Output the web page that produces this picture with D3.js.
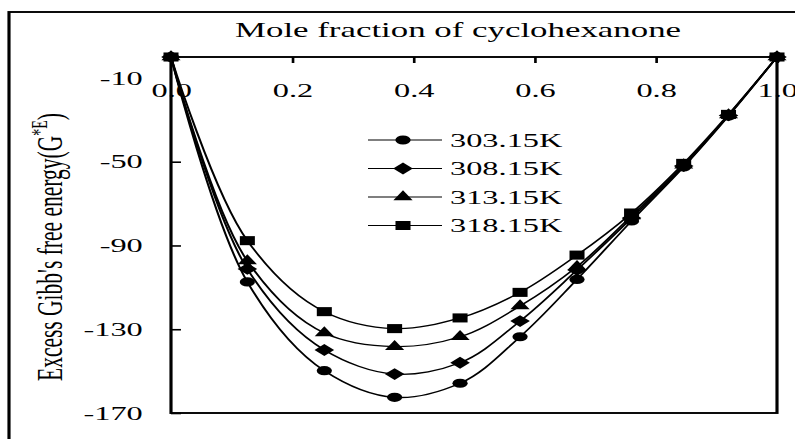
<!DOCTYPE html>
<html>
<head>
<meta charset="utf-8">
<script src="https://cdn.jsdelivr.net/npm/d3@7"></script>
<style>
  body { margin: 0; background: #fff; }
  svg { display: block; }
</style>
</head>
<body>
<script>
// mole fraction of cyclohexanone
const xFrac = [0, 0.126, 0.253, 0.369, 0.477, 0.576, 0.670, 0.760, 0.846, 0.920, 1.0];
// excess gibbs free energy per temperature
const g303 = [0, -107.4, -149.8, -162.5, -155.8, -133.6, -106.2, -78.3, -52.5, -28.2, 0];
const g308 = [0, -101.2, -139.9, -151.4, -146.0, -126.1, -101.7, -76.9, -52.1, -27.9, 0];
const g313 = [0, -97.4, -131.8, -138.3, -133.6, -118.9, -100.1, -75.9, -51.6, -27.7, 0];
const g318 = [0, -87.7, -121.6, -129.7, -124.6, -112.4, -94.6, -74.5, -50.8, -27.4, 0];
const seriesNames = ["303.15K", "308.15K", "313.15K", "318.15K"];
const xTicks = [0, 0.2, 0.4, 0.6, 0.8, 1.0];
const yTicks = [-170, -130, -90, -50, -10];

const FONT = '"Liberation Serif", "Times New Roman", Times, serif';

// the original figure was stretched sideways, so draw narrow and let viewBox stretch it
const SX = 1.66;
const W = 795, H = 439;
const VW = W / SX;

const diamond = {
  draw(ctx, size) {
    const r = Math.sqrt(size) / 2;
    ctx.moveTo(0, -r); ctx.lineTo(r, 0); ctx.lineTo(0, r); ctx.lineTo(-r, 0); ctx.closePath();
  }
};
const shapes = [
  {type: d3.symbolCircle, size: 66},
  {type: diamond, size: 140},
  {type: d3.symbolTriangle, size: 58},
  {type: d3.symbolSquare, size: 82}
];

const allSeries = [g303, g308, g313, g318].map((vals, i) => ({
  name: seriesNames[i],
  shape: shapes[i],
  pts: vals.map((v, j) => ({x: xFrac[j], y: v}))
}));

const svg = d3.select("body").append("svg")
  .attr("width", W)
  .attr("height", H)
  .attr("viewBox", `0 0 ${VW} ${H}`)
  .attr("preserveAspectRatio", "none")
  .attr("font-family", FONT);

// outer frame (runs off right/bottom edge like the screenshot)
svg.append("rect")
  .attr("x", 9 / SX).attr("y", 12)
  .attr("width", VW).attr("height", H)
  .attr("fill", "none").attr("stroke", "#000").attr("stroke-width", 1.9);

const pLeft = 171 / SX, pRight = 777 / SX, pTop = 57, pBottom = 413;

const x = d3.scaleLinear().domain([0, 1]).range([pLeft, pRight]);
const y = d3.scaleLinear().domain([-170, 0]).range([pBottom, pTop]);

// plot box
svg.append("rect")
  .attr("x", pLeft).attr("y", pTop)
  .attr("width", pRight - pLeft).attr("height", pBottom - pTop)
  .attr("fill", "none").attr("stroke", "#000").attr("stroke-width", 1.9);

// x axis sits on the top edge (y = 0), labels hang below
const xAxis = svg.append("g")
  .attr("transform", `translate(0,${pTop})`)
  .call(d3.axisBottom(x).tickValues(xTicks).tickFormat(d3.format(".1f"))
    .tickSize(6).tickPadding(20));
xAxis.attr("font-family", FONT).attr("font-size", 19.5);
xAxis.select(".domain").remove();
xAxis.selectAll("line").attr("stroke", "#000").attr("stroke-width", 1.6);
xAxis.selectAll("text").attr("font-family", FONT).attr("font-size", 19.5);

// plain hyphen minus like the original, not the unicode one
const yAxis = svg.append("g")
  .attr("transform", `translate(${pLeft},0)`)
  .call(d3.axisLeft(y).tickValues(yTicks).tickFormat(d => String(d))
    .tickSize(-6).tickPadding(17));
yAxis.attr("font-family", FONT).attr("font-size", 19.5);
yAxis.select(".domain").remove();
yAxis.selectAll("line").attr("stroke", "#000").attr("stroke-width", 1.6);
yAxis.selectAll(".tick").filter(d => d === -10).select("line").remove();
yAxis.selectAll("text").attr("font-family", FONT).attr("font-size", 19.5);

// title
svg.append("text")
  .attr("x", 458 / SX).attr("y", 37)
  .attr("text-anchor", "middle")
  .attr("font-size", 21)
  .text("Mole fraction of cyclohexanone");

// y label
const ylab = svg.append("text")
  .attr("transform", `translate(${62 / SX},247) rotate(-90)`)
  .attr("text-anchor", "middle")
  .attr("font-size", 21.5);
ylab.append("tspan").text("Excess Gibb's free energy(G");
ylab.append("tspan").attr("font-size", 14).attr("dy", -9).text("*E");
ylab.append("tspan").attr("dy", 9).text(")");

const line = d3.line()
  .x(d => x(d.x))
  .y(d => y(d.y))
  .curve(d3.curveCatmullRom.alpha(0.5));

allSeries.forEach(s => {
  svg.append("path")
    .datum(s.pts)
    .attr("d", line)
    .attr("fill", "none")
    .attr("stroke", "#000")
    .attr("stroke-width", 1.3);
});

allSeries.forEach(s => {
  const sym = d3.symbol().type(s.shape.type).size(s.shape.size);
  svg.selectAll(null)
    .data(s.pts)
    .enter()
    .append("path")
    .attr("d", sym)
    .attr("transform", d => `translate(${x(d.x)},${y(d.y)})`)
    .attr("fill", "#000");
});

// legend
const legY = [140, 168.5, 197, 225.5];
const leg = svg.append("g");
allSeries.forEach((s, i) => {
  const g = leg.append("g").attr("transform", `translate(0,${legY[i]})`);
  g.append("line")
    .attr("x1", 368 / SX).attr("x2", 442 / SX)
    .attr("stroke", "#000").attr("stroke-width", 1.2);
  g.append("path")
    .attr("d", d3.symbol().type(s.shape.type).size(s.shape.size)())
    .attr("transform", `translate(${403 / SX},0)`)
    .attr("fill", "#000");
  g.append("text")
    .attr("x", 450 / SX)
    .attr("dy", "0.35em")
    .attr("font-size", 19.5)
    .text(s.name);
});
</script>
</body>
</html>
